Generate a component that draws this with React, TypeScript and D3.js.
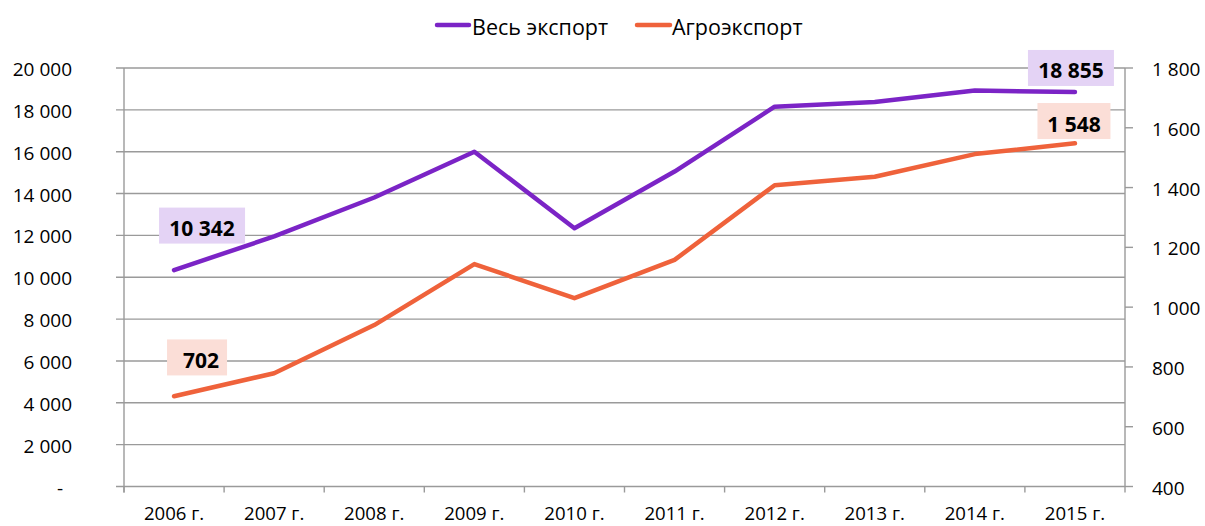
import React from "react";
import * as d3 from "d3";

const categories = ["2006 г.", "2007 г.", "2008 г.", "2009 г.", "2010 г.", "2011 г.", "2012 г.", "2013 г.", "2014 г.", "2015 г."];
const totalExport = [10342, 11950, 13810, 16000, 12340, 15050, 18150, 18380, 18920, 18855];
const agroExport = [702, 779, 940, 1144, 1030, 1158, 1408, 1436, 1512, 1548];
const leftTicks = [0, 2000, 4000, 6000, 8000, 10000, 12000, 14000, 16000, 18000, 20000];
const rightTicks = [400, 600, 800, 1000, 1200, 1400, 1600, 1800];
const seriesNames = ["Весь экспорт", "Агроэкспорт"];

const W = 1205;
const H = 526;
const PURPLE = "#7B24C6";
const ORANGE = "#EF623B";
const FONT = "'Open Sans', sans-serif";

const fmt = (v: number) => d3.format(",")(v).replace(/,/g, " ");

export default function App() {
  const left = 124, right = 1125, top = 68, bottom = 486.5;
  const x = d3.scaleBand<string>().domain(categories).range([left, right]);
  const yL = d3.scaleLinear().domain([0, 20000]).range([bottom, top]);
  const yR = d3.scaleLinear().domain([400, 1800]).range([bottom, top]);
  const cx = (c: string) => (x(c) as number) + x.bandwidth() / 2;

  const lineL = d3.line<number>().x((_, i) => cx(categories[i])).y((d) => yL(d));
  const lineR = d3.line<number>().x((_, i) => cx(categories[i])).y((d) => yR(d));

  const n = categories.length - 1;
  const labels = [
    { text: fmt(totalExport[0]), px: cx(categories[0]), py: yL(totalExport[0]), dx: 28, dy: -44.5, w: 86, h: 36, bg: "#E4D3F5" },
    { text: fmt(agroExport[0]), px: cx(categories[0]), py: yR(agroExport[0]), dx: 23, dy: -38.8, w: 60, h: 36, bg: "#FBDED7", shift: 4 },
    { text: fmt(totalExport[n]), px: cx(categories[n]), py: yL(totalExport[n]), dx: -4, dy: -24, w: 86, h: 36, bg: "#E4D3F5" },
    { text: fmt(agroExport[n]), px: cx(categories[n]), py: yR(agroExport[n]), dx: -1, dy: -22.3, w: 73, h: 36, bg: "#FBDED7" },
  ];

  return (
    <svg width={W} height={H} style={{ display: "block", position: "absolute", left: 0, top: 0 }} fontFamily={FONT}>
      <rect width={W} height={H} fill="#fff" />
      {/* gridlines */}
      {leftTicks.map((t) => (
        <line key={"g" + t} x1={left - 8} x2={right} y1={yL(t)} y2={yL(t)} stroke="#9a9a9a" strokeWidth={1.4} />
      ))}
      {/* right ticks */}
      {rightTicks.map((t) => (
        <line key={"rt" + t} x1={right} x2={right + 8} y1={yR(t)} y2={yR(t)} stroke="#9a9a9a" strokeWidth={1.4} />
      ))}
      {/* axes */}
      <line x1={left} x2={left} y1={top} y2={bottom + 6} stroke="#9a9a9a" strokeWidth={1.4} />
      <line x1={right} x2={right} y1={top} y2={bottom + 6} stroke="#9a9a9a" strokeWidth={1.4} />
      {categories.map((c, i) => (
        <line key={"xt" + i} x1={x(c) as number} x2={x(c) as number} y1={bottom} y2={bottom + 6} stroke="#9a9a9a" strokeWidth={1.4} />
      ))}
      {/* left labels */}
      {leftTicks.map((t) => (
        <text key={"ll" + t} x={t === 0 ? 63 : 72} y={yL(t) + 8} textAnchor="end" fontSize={19} fill="#000">
          {t === 0 ? "-" : fmt(t)}
        </text>
      ))}
      {/* right labels */}
      {rightTicks.map((t) => (
        <text key={"rl" + t} x={1152} y={yR(t) + 8} textAnchor="start" fontSize={19} fill="#000">
          {fmt(t)}
        </text>
      ))}
      {/* x labels */}
      {categories.map((c) => (
        <text key={"xl" + c} x={cx(c)} y={519.5} textAnchor="middle" fontSize={18.6} fill="#000">
          {c}
        </text>
      ))}
      {/* lines */}
      <path d={lineL(totalExport) || ""} fill="none" stroke={PURPLE} strokeWidth={4.5} strokeLinecap="round" strokeLinejoin="round" />
      <path d={lineR(agroExport) || ""} fill="none" stroke={ORANGE} strokeWidth={4.5} strokeLinecap="round" strokeLinejoin="round" />
      {/* data labels */}
      {labels.map((l, i) => {
        const bx = l.px + l.dx;
        const by = l.py + l.dy;
        return (
          <g key={"dl" + i}>
            <rect x={bx - l.w / 2} y={by - l.h / 2} width={l.w} height={l.h} fill={l.bg} />
            <text x={bx + (l.shift || 0)} y={by + 10.5} textAnchor="middle" fontSize={21} fontWeight="bold" fill="#000">
              {l.text}
            </text>
          </g>
        );
      })}
      {/* legend */}
      <line x1={437} x2={469} y1={25} y2={25} stroke={PURPLE} strokeWidth={4.5} strokeLinecap="round" />
      <text x={472} y={34.5} fontSize={21.5} fill="#000">{seriesNames[0]}</text>
      <line x1={637} x2={670} y1={25} y2={25} stroke={ORANGE} strokeWidth={4.5} strokeLinecap="round" />
      <text x={672} y={34.5} fontSize={21.5} fill="#000">{seriesNames[1]}</text>
    </svg>
  );
}
